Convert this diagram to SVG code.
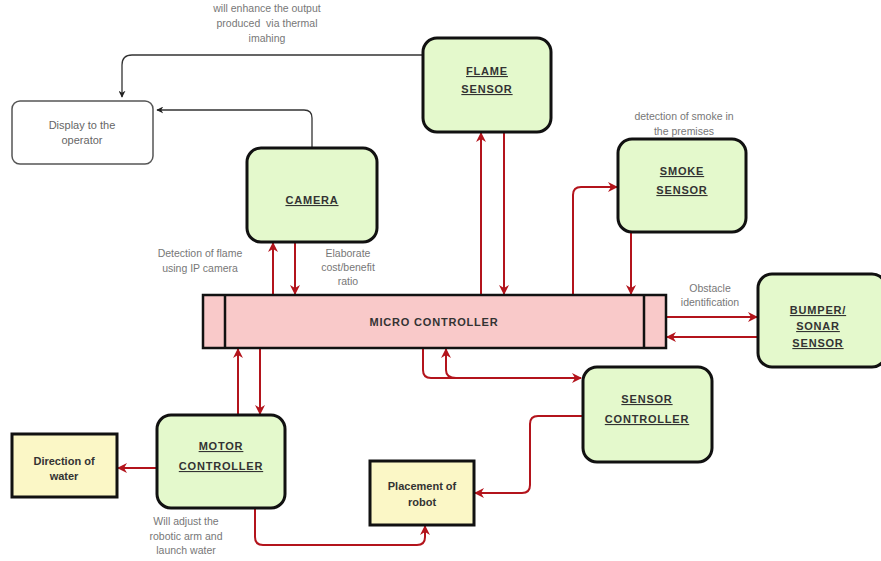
<svg xmlns="http://www.w3.org/2000/svg" width="881" height="561" viewBox="0 0 881 561">
<style>
.node{fill:#e4f9cc;stroke:#111;stroke-width:3}
.ybox{fill:#fbf7c6;stroke:#111;stroke-width:3}
.disp{fill:#fff;stroke:#555;stroke-width:1.5}
.mc{fill:#f9c9c9;stroke:#111;stroke-width:2.5}
.t{font-family:"Liberation Sans",Arial,sans-serif;font-size:11px;font-weight:bold;fill:#333;text-anchor:middle;text-decoration:underline;letter-spacing:0.8px}
.tb{font-family:"Liberation Sans",Arial,sans-serif;font-size:11px;font-weight:bold;fill:#333;text-anchor:middle}
.lbl{font-family:"Liberation Sans",Arial,sans-serif;font-size:10.5px;fill:#777;text-anchor:middle;white-space:pre}
.dl{font-family:"Liberation Sans",Arial,sans-serif;font-size:11px;fill:#666;text-anchor:middle}
.r{fill:none;stroke:#b3141c;stroke-width:2}
.k{fill:none;stroke:#333;stroke-width:1.3}
</style>
<defs>
<marker id="ar" viewBox="0 0 10 10" refX="9" refY="5" markerWidth="10" markerHeight="10" orient="auto" markerUnits="userSpaceOnUse">
<path d="M0,0 L10,5 L0,10 L3,5 z" fill="#b3141c"/>
</marker>
<marker id="ak" viewBox="0 0 10 10" refX="9" refY="5" markerWidth="7" markerHeight="7" orient="auto" markerUnits="userSpaceOnUse">
<path d="M0,0 L10,5 L0,10 L3,5 z" fill="#222"/>
</marker>
</defs>

<g id="connectors">
<path class="k" d="M423,55 L132,55 Q122,55 122,65 L122,97" marker-end="url(#ak)"/>
<path class="k" d="M312,148 L312,118 Q312,110 304,110 L157,110" marker-end="url(#ak)"/>
<path class="r" d="M273,295 L273,243" marker-end="url(#ar)"/>
<path class="r" d="M295,242 L295,294" marker-end="url(#ar)"/>
<path class="r" d="M481,295 L481,133" marker-end="url(#ar)"/>
<path class="r" d="M504,132 L504,294" marker-end="url(#ar)"/>
<path class="r" d="M573,295 L573,195 Q573,187 581,187 L617,187" marker-end="url(#ar)"/>
<path class="r" d="M631,232 L631,294" marker-end="url(#ar)"/>
<path class="r" d="M666,317 L757,317" marker-end="url(#ar)"/>
<path class="r" d="M758,337 L667,337" marker-end="url(#ar)"/>
<path class="r" d="M238,415 L238,349" marker-end="url(#ar)"/>
<path class="r" d="M260,348 L260,414" marker-end="url(#ar)"/>
<path class="r" d="M423,348 L423,370 Q423,378 431,378 L581,378" marker-end="url(#ar)"/>
<path class="r" d="M456,378 Q446,378 446,370 L446,349" marker-end="url(#ar)"/>
<path class="r" d="M583,416 L538,416 Q530,416 530,424 L530,485 Q530,493 522,493 L475,493" marker-end="url(#ar)"/>
<path class="r" d="M157,468 L118,468" marker-end="url(#ar)"/>
<path class="r" d="M255,508 L255,537 Q255,545 263,545 L417,545 Q425,545 425,537 L425,526" marker-end="url(#ar)"/>
</g>

<g id="display">
<rect class="disp" x="12" y="101" width="141" height="63" rx="8"/>
<text class="dl" x="82" y="129">Display to the</text>
<text class="dl" x="82" y="144">operator</text>
</g>

<g id="flame">
<rect class="node" x="423" y="38" width="128" height="94" rx="14"/>
<text class="t" x="487" y="75">FLAME</text>
<text class="t" x="487" y="93">SENSOR</text>
</g>

<g id="camera">
<rect class="node" x="247" y="148" width="130" height="94" rx="14"/>
<text class="t" x="312" y="204">CAMERA</text>
</g>

<g id="smoke">
<rect class="node" x="618" y="139" width="128" height="93" rx="14"/>
<text class="t" x="682" y="175">SMOKE</text>
<text class="t" x="682" y="194">SENSOR</text>
</g>

<g id="microcontroller">
<rect class="mc" x="203" y="295" width="463" height="53"/>
<line x1="225" y1="295" x2="225" y2="348" stroke="#111" stroke-width="2.5"/>
<line x1="644" y1="295" x2="644" y2="348" stroke="#111" stroke-width="2.5"/>
<text class="tb" x="434" y="326" style="letter-spacing:0.8px">MICRO CONTROLLER</text>
</g>

<g id="bumper">
<rect class="node" x="758" y="274" width="128" height="93" rx="14"/>
<text class="t" x="818" y="314">BUMPER/</text>
<text class="t" x="818" y="330">SONAR</text>
<text class="t" x="818" y="347">SENSOR</text>
</g>

<g id="sensorcontroller">
<rect class="node" x="583" y="367" width="129" height="95" rx="14"/>
<text class="t" x="647" y="403">SENSOR</text>
<text class="t" x="647" y="423">CONTROLLER</text>
</g>

<g id="motor">
<rect class="node" x="157" y="415" width="128" height="93" rx="14"/>
<text class="t" x="221" y="450">MOTOR</text>
<text class="t" x="221" y="470">CONTROLLER</text>
</g>

<g id="direction">
<rect class="ybox" x="12" y="434" width="105" height="63"/>
<text class="tb" x="64" y="465">Direction of</text>
<text class="tb" x="64" y="480">water</text>
</g>

<g id="placement">
<rect class="ybox" x="370" y="461" width="104" height="64"/>
<text class="tb" x="422" y="490">Placement of</text>
<text class="tb" x="422" y="506">robot</text>
</g>

<g id="labels">
<text class="lbl" x="267" y="12">will enhance the output</text>
<text class="lbl" x="267" y="27">produced  via thermal</text>
<text class="lbl" x="267" y="42">imahing</text>
<text class="lbl" x="684" y="120">detection of smoke in</text>
<text class="lbl" x="684" y="135">the premises</text>
<text class="lbl" x="200" y="257">Detection of flame</text>
<text class="lbl" x="200" y="272">using IP camera</text>
<text class="lbl" x="348" y="257">Elaborate</text>
<text class="lbl" x="348" y="271">cost/benefit</text>
<text class="lbl" x="348" y="285">ratio</text>
<text class="lbl" x="710" y="292">Obstacle</text>
<text class="lbl" x="710" y="306">identification</text>
<text class="lbl" x="186" y="525">Will adjust the</text>
<text class="lbl" x="186" y="540">robotic arm and</text>
<text class="lbl" x="186" y="554">launch water</text>
</g>
</svg>
